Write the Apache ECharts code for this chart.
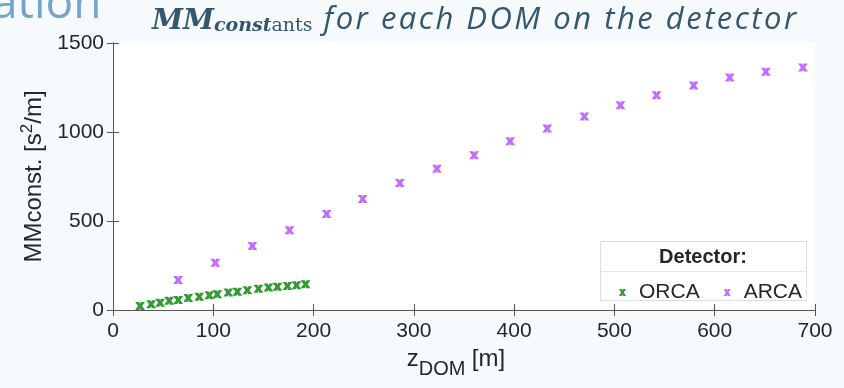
<!DOCTYPE html>
<html>
<head>
<meta charset="utf-8">
<script src="https://cdn.jsdelivr.net/npm/echarts@6/dist/echarts.min.js"></script>
<style>
  html, body { margin: 0; padding: 0; background: #f7fafd; }
  #chart { width: 844px; height: 388px; }
</style>
</head>
<body>
<div id="chart"></div>
<script>
document.addEventListener('DOMContentLoaded', function() {

    // z of each DOM [m] and its MM constant [s^2/m]
    const orcaZ = [27, 38, 47, 56, 65, 75, 86, 96, 104, 115, 124, 134, 145, 155, 164, 174, 183, 192];
    const orcaMM = [22, 33, 41, 52, 56, 67, 74, 83, 89, 98, 102, 111, 119, 126, 130, 135, 139, 144];
    const arcaZ = [65, 102, 139, 176, 213, 249, 286, 323, 360, 396, 433, 470, 506, 542, 579, 615, 651, 688];
    const arcaMM = [168, 265, 359, 448, 539, 624, 713, 794, 870, 948, 1020, 1087, 1150, 1207, 1261, 1306, 1339, 1363];

    const xTicks = [0, 700, 100];   // min, max, step
    const yTicks = [0, 1500, 500];

    const titleTail = 'for each DOM on the detector';

    const axisColor = '#555';
    const textColor = '#262626';
    const titleColor = '#34566f';
    const cross = 'path://M0,0L4.2,0L5,2.4L5.8,0L10,0L7,5L10,10L5.8,10L5,7.6L4.2,10L0,10L3,5Z';

    const zip = (xs, ys) => xs.map((x, i) => [x, ys[i]]);

    const axisBase = (min, max, interval) => ({
        type: 'value',
        min: min,
        max: max,
        interval: interval,
        axisLine: { show: true, lineStyle: { color: axisColor, width: 1 } },
        axisTick: { show: true, inside: true, length: 6, lineStyle: { color: axisColor } },
        splitLine: { show: false }
    });

    // the slide title is set with wide letter spacing, so each letter is its own token
    const spaced = titleTail.split('').map(ch => '{t|' + ch + '}').join('');

    const chart = echarts.init(document.getElementById('chart'));

    chart.setOption({
        backgroundColor: '#f7fafd',
        animation: false,
        title: {
            left: 152,
            top: 0,
            padding: 0,
            text: '{mm|MM}{c|const}{a|ants}' + spaced,
            textStyle: {
                fontWeight: 'normal',
                rich: {
                    mm: { fontFamily: 'DejaVu Serif', fontWeight: 'bold', fontStyle: 'italic', fontSize: 28, lineHeight: 36, verticalAlign: 'bottom', color: titleColor },
                    c: { fontFamily: 'DejaVu Serif', fontWeight: 'bold', fontStyle: 'italic', fontSize: 19, lineHeight: 20, verticalAlign: 'bottom', color: titleColor },
                    a: { fontFamily: 'DejaVu Serif', fontSize: 19, lineHeight: 20, verticalAlign: 'bottom', color: titleColor, padding: [0, 11, 0, 0] },
                    t: { fontFamily: 'Open Sans', fontStyle: 'italic', fontWeight: 'normal', fontSize: 31, lineHeight: 36, verticalAlign: 'bottom', color: titleColor, padding: [0, 2.5, 0, 0] }
                }
            }
        },
        grid: {
            left: 113,
            right: 29,
            top: 43,
            bottom: 78,
            show: true,
            backgroundColor: '#ffffff',
            borderWidth: 0
        },
        xAxis: [
            Object.assign(axisBase(xTicks[0], xTicks[1], xTicks[2]), {
                position: 'bottom',
                axisLabel: { color: textColor, fontSize: 21, fontFamily: 'Liberation Sans', margin: 11 },
                name: '{n|z}{s|DOM} {m|[m]}',
                nameLocation: 'middle',
                nameGap: 37,
                nameTextStyle: {
                    rich: {
                        n: { fontFamily: 'Liberation Sans', fontSize: 24, color: textColor, lineHeight: 26, verticalAlign: 'top' },
                        m: { fontFamily: 'Liberation Sans', fontSize: 24, color: textColor, lineHeight: 26, verticalAlign: 'top', padding: [0, 16, 0, 0] },
                        s: { fontFamily: 'Liberation Sans', fontSize: 20, color: textColor, lineHeight: 20, padding: [12, 3, 0, 0], verticalAlign: 'top' }
                    }
                }
            }),
            Object.assign(axisBase(xTicks[0], xTicks[1], xTicks[2]), {
                position: 'top',
                axisLabel: { show: false }
            })
        ],
        yAxis: [
            Object.assign(axisBase(yTicks[0], yTicks[1], yTicks[2]), {
                position: 'left',
                axisLabel: { color: textColor, fontSize: 21, fontFamily: 'Liberation Sans', margin: 9, formatter: (v) => String(v) },
                name: '{n|MMconst. [s}{p|2}{n|/m]}',
                nameLocation: 'middle',
                nameGap: 61,
                nameTextStyle: {
                    rich: {
                        n: { fontFamily: 'Liberation Sans', fontSize: 24, color: textColor, lineHeight: 28, verticalAlign: 'bottom' },
                        p: { fontFamily: 'Liberation Sans', fontSize: 17, color: textColor, lineHeight: 17, padding: [0, 0, 11, 0], verticalAlign: 'bottom' }
                    }
                }
            }),
            Object.assign(axisBase(yTicks[0], yTicks[1], yTicks[2]), {
                position: 'right',
                axisLabel: { show: false }
            })
        ],
        legend: {
            left: 614,
            top: 277,
            z: 10,
            itemWidth: 9,
            itemHeight: 7,
            itemGap: 24,
            textStyle: { color: textColor, fontSize: 21, fontFamily: 'Liberation Sans', padding: [0, 0, 0, 7] },
            data: [
                { name: 'ORCA', icon: cross },
                { name: 'ARCA', icon: cross }
            ]
        },
        graphic: [
            {
                type: 'text',
                left: -8,
                top: -18,
                style: { text: 'ation', fontFamily: 'Open Sans', fontSize: 46, fill: '#74a6c9' }
            },
            {
                type: 'rect',
                z: 5,
                shape: { x: 600.5, y: 241.5, width: 206, height: 59 },
                style: { fill: '#ffffff', stroke: '#dddddd', lineWidth: 1 }
            },
            {
                type: 'line',
                z: 5,
                shape: { x1: 600.5, y1: 271.5, x2: 806.5, y2: 271.5 },
                style: { stroke: '#e6e6e6', lineWidth: 1 }
            },
            {
                type: 'text',
                z: 6,
                x: 703,
                y: 257,
                style: { text: 'Detector:', fontFamily: 'Liberation Sans', fontWeight: 'bold', fontSize: 20, fill: textColor, align: 'center', verticalAlign: 'middle' }
            }
        ],
        series: [
            {
                name: 'ORCA',
                type: 'scatter',
                symbol: cross,
                symbolSize: [10, 8],
                itemStyle: { color: '#008000' },
                data: zip(orcaZ, orcaMM)
            },
            {
                name: 'ARCA',
                type: 'scatter',
                symbol: cross,
                symbolSize: [10, 8],
                itemStyle: { color: '#b446ff' },
                data: zip(arcaZ, arcaMM)
            }
        ]
    });

});
</script>
</body>
</html>
